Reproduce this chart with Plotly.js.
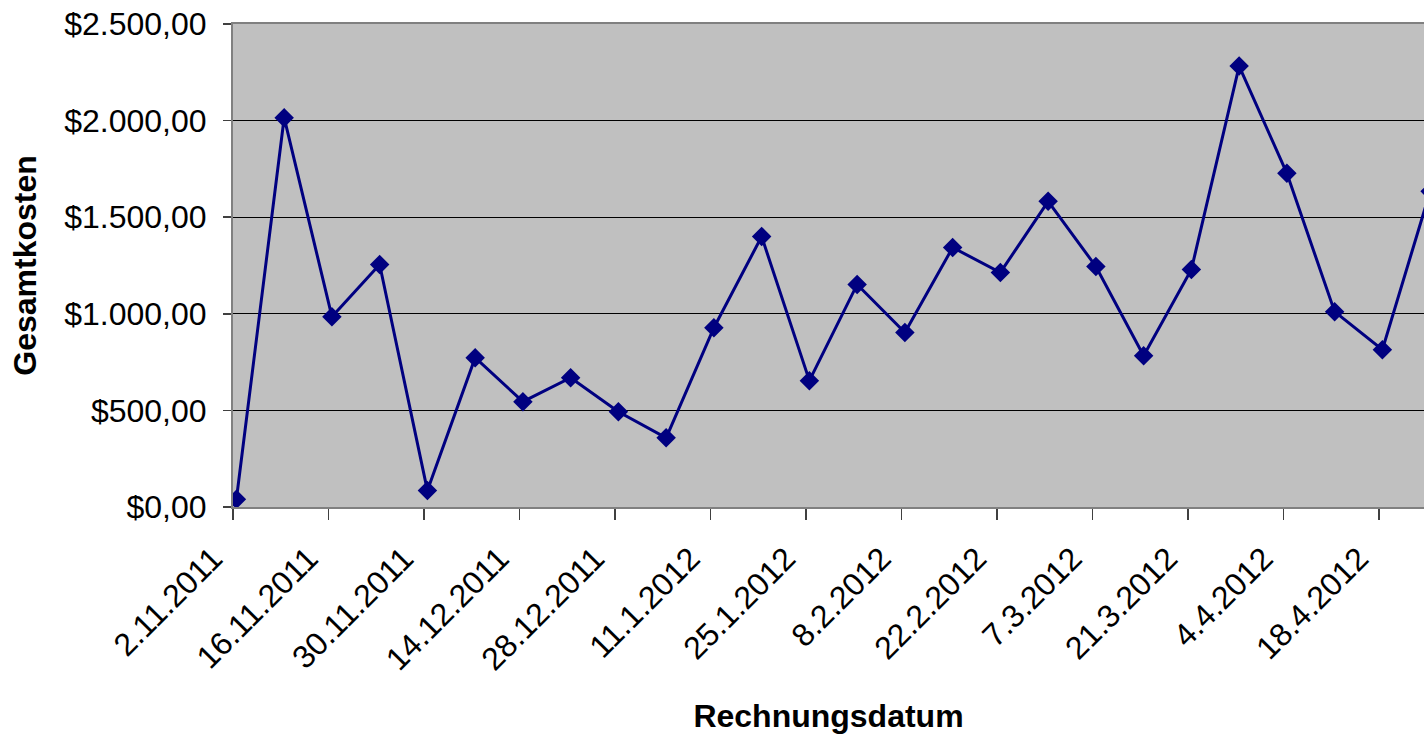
<!DOCTYPE html>
<html>
<head>
<meta charset="utf-8">
<script src="https://cdn.plot.ly/plotly-3.0.1.min.js"></script>
<style>
  html, body { margin: 0; padding: 0; background: #ffffff; overflow: hidden; }
  #chart { width: 1424px; height: 734px; }
</style>
</head>
<body>
<div id="chart"></div>
<script>
// Rechnungsdatum (weekly invoice dates)
const dates = [
  '2011-11-02','2011-11-09','2011-11-16','2011-11-23','2011-11-30',
  '2011-12-07','2011-12-14','2011-12-21','2011-12-28',
  '2012-01-04','2012-01-11','2012-01-18','2012-01-25',
  '2012-02-01','2012-02-08','2012-02-15','2012-02-22','2012-02-29',
  '2012-03-07','2012-03-14','2012-03-21','2012-03-28',
  '2012-04-04','2012-04-11','2012-04-18','2012-04-25'
];
// Gesamtkosten (total cost)
const totals = [
  40, 2015, 985, 1255, 85,
  773, 545, 669, 493,
  358, 928, 1400, 654,
  1152, 903, 1343, 1214, 1582,
  1245, 783, 1229, 2282,
  1727, 1011, 814, 1634
];
const xTitle = 'Rechnungsdatum';
const yTitle = 'Gesamtkosten';

const FONT = 'Liberation Sans, Arial, sans-serif';
const DAY = 86400000;

const trace = {
  type: 'scatter',
  mode: 'lines+markers',
  x: dates,
  y: totals,
  xperiod: DAY,
  xperiodalignment: 'middle',
  cliponaxis: true,
  line: { color: '#000080', width: 3 },
  marker: { symbol: 'diamond', size: 15, color: '#000080', line: { width: 0 } },
  hoverinfo: 'x+y'
};

const layout = {
  width: 1424,
  height: 734,
  margin: { l: 233, r: 0, t: 24, b: 227, pad: 0 },
  paper_bgcolor: '#ffffff',
  plot_bgcolor: '#c0c0c0',
  separators: ',.',
  showlegend: false,
  font: { family: FONT, color: '#000000' },
  xaxis: {
    type: 'date',
    range: ['2011-11-02', '2012-04-24 14:24'],
    tick0: '2011-11-02',
    dtick: 14 * DAY,
    tickformat: '%-d.%-m.%Y',
    tickangle: -45,
    ticks: 'outside',
    ticklen: 11,
    tickwidth: 1.5,
    tickcolor: '#404040',
    ticklabelstandoff: 7,
    ticklabelshift: -20,
    tickfont: { family: FONT, size: 32, color: '#000000' },
    showgrid: false,
    zeroline: false,
    showline: true,
    linecolor: '#808080',
    linewidth: 2,
    mirror: true,
    title: { text: xTitle, font: { family: FONT, size: 32, color: '#000000', weight: 'bold' }, standoff: 35 },
    automargin: false
  },
  yaxis: {
    range: [0, 2500],
    dtick: 500,
    tick0: 0,
    tickprefix: '$',
    tickformat: ',.2f',
    ticks: 'outside',
    ticklen: 8,
    tickwidth: 1.5,
    tickcolor: '#404040',
    ticklabelstandoff: 10,
    tickfont: { family: FONT, size: 32, color: '#000000' },
    showgrid: true,
    gridcolor: '#000000',
    gridwidth: 1,
    zeroline: false,
    showline: true,
    linecolor: '#808080',
    linewidth: 2,
    title: { text: yTitle, font: { family: FONT, size: 32, color: '#000000', weight: 'bold' }, standoff: 18 },
    automargin: false
  }
};

Plotly.newPlot('chart', [trace], layout, { displayModeBar: false, staticPlot: true });
</script>
</body>
</html>
